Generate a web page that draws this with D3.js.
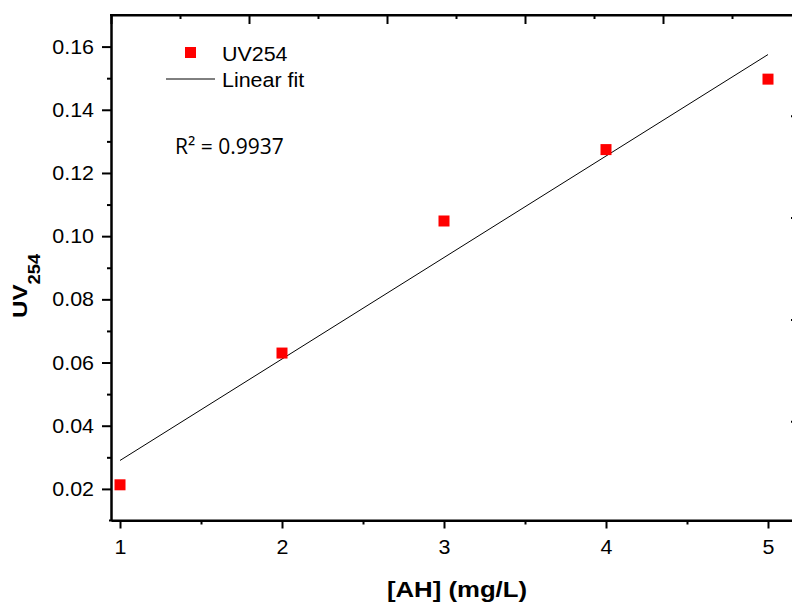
<!DOCTYPE html>
<html>
<head>
<meta charset="utf-8">
<script src="https://cdn.jsdelivr.net/npm/d3@7"></script>
<style>
  html, body { margin: 0; padding: 0; background: #fff; }
  svg { display: block; }
</style>
</head>
<body>
<svg id="chart" width="792" height="603"></svg>
<script>
// ---- data ----
const concentrations = [1, 2, 3, 4, 5];            // [AH] (mg/L)
const uv254 = [0.0213, 0.063, 0.1048, 0.1274, 0.1497];
const xTickValues = [1, 2, 3, 4, 5];
const xMinorTicks = [1.5, 2.5, 3.5, 4.5];
const yTickValues = [0.02, 0.04, 0.06, 0.08, 0.10, 0.12, 0.14, 0.16];
const yMinorTicks = [0.03, 0.05, 0.07, 0.09, 0.11, 0.13, 0.15];
const topMajorTicks = [0, 1, 2, 3, 4, 5];
const topMinorTicks = [0.5, 1.5, 2.5, 3.5, 4.5];
const rightTicks = [1, 2, 3, 4];
const seriesName = "UV254";
const fitName = "Linear fit";
const r2Text = "R\u00B2 = 0.9937";
const xTitle = "[AH] (mg/L)";

// ---- least squares fit ----
const n = concentrations.length;
const mx = d3.mean(concentrations), my = d3.mean(uv254);
let sxy = 0, sxx = 0;
for (let i = 0; i < n; i++) {
  sxy += (concentrations[i] - mx) * (uv254[i] - my);
  sxx += (concentrations[i] - mx) ** 2;
}
const slope = sxy / sxx, intercept = my - slope * mx;
const fitX = [d3.min(concentrations), d3.max(concentrations)];

// ---- layout ----
const L = 111, R = 795, T = 15, B = 520.5;
const svg = d3.select("#chart");
const x = d3.scaleLinear().domain([0.9444, 5.1667]).range([L, R]);
const y = d3.scaleLinear().domain([0.01, 0.17]).range([B, T]);
const xTop = d3.scaleLinear().domain([0, 5]).range([L, 801]);
const yRight = d3.scaleLinear().domain([0.0246, 4.99]).range([B, T]);

const FONT = "'Liberation Sans', Arial, sans-serif";
const SX = 1.1;

function styleAxis(g) {
  g.selectAll("path.domain").attr("stroke", "#000").attr("stroke-width", 2);
  g.selectAll(".tick line").attr("stroke", "#000").attr("stroke-width", 2);
}

// minor ticks
svg.append("g").attr("transform", `translate(0,${B})`)
  .call(d3.axisBottom(x).tickValues(xMinorTicks).tickSize(4).tickSizeOuter(0).tickFormat(""))
  .call(styleAxis);
svg.append("g").attr("transform", `translate(${L},0)`)
  .call(d3.axisLeft(y).tickValues(yMinorTicks).tickSize(4).tickSizeOuter(0).tickFormat(""))
  .call(styleAxis);

// bottom axis
const gx = svg.append("g").attr("transform", `translate(0,${B})`)
  .call(d3.axisBottom(x).tickValues(xTickValues).tickSize(8).tickSizeOuter(0).tickFormat(d3.format("d")))
  .call(styleAxis);
gx.select("path.domain").attr("d", `M${L - 2},0H${R}`);
gx.selectAll("text")
  .attr("x", null).attr("y", null).attr("dy", "0.71em")
  .attr("transform", `translate(0,19.5) scale(${SX},1)`)
  .attr("font-family", FONT).attr("font-size", "19.5px").attr("fill", "#000");

// left axis
const gy = svg.append("g").attr("transform", `translate(${L},0)`)
  .call(d3.axisLeft(y).tickValues(yTickValues).tickSize(9).tickSizeOuter(0).tickFormat(d3.format(".2f")))
  .call(styleAxis);
gy.selectAll("text")
  .attr("x", null).attr("dy", "0.34em")
  .attr("transform", `translate(-17,0) scale(${SX},1)`)
  .attr("font-family", FONT).attr("font-size", "19.5px").attr("fill", "#000");

// top axis (inward ticks, no labels)
svg.append("g").attr("transform", `translate(0,${T})`)
  .call(d3.axisTop(xTop).tickValues(topMinorTicks).tickSize(-4).tickSizeOuter(0).tickFormat(""))
  .call(styleAxis);
const gt = svg.append("g").attr("transform", `translate(0,${T})`)
  .call(d3.axisTop(xTop).tickValues(topMajorTicks).tickSize(-9).tickSizeOuter(0).tickFormat(""))
  .call(styleAxis);
gt.select("path.domain").attr("d", `M${L - 1},0H${R + 5}`);

// right axis (mostly off-canvas)
svg.append("g").attr("transform", `translate(${R},0)`)
  .call(d3.axisRight(yRight).tickValues(rightTicks).tickSize(-4).tickSizeOuter(0).tickFormat(""))
  .call(styleAxis);

// fit line
svg.append("line")
  .attr("x1", x(fitX[0])).attr("y1", y(intercept + slope * fitX[0]))
  .attr("x2", x(fitX[1])).attr("y2", y(intercept + slope * fitX[1]))
  .attr("stroke", "#000").attr("stroke-width", 1);

// points
const ms = 11;
svg.append("g").selectAll("rect").data(concentrations).join("rect")
  .attr("x", (d) => x(d) - ms / 2)
  .attr("y", (d, i) => y(uv254[i]) - ms / 2)
  .attr("width", ms).attr("height", ms)
  .attr("fill", "#ff0000");

// legend
function stretchedText(px, py, str, size, weight, family) {
  return svg.append("text")
    .attr("transform", `translate(${px},${py}) scale(${SX},1)`)
    .attr("font-family", family || FONT).attr("font-size", size + "px")
    .attr("font-weight", weight || "normal").attr("fill", "#000")
    .text(str);
}
svg.append("rect").attr("x", 185).attr("y", 47).attr("width", ms).attr("height", ms).attr("fill", "#ff0000");
stretchedText(222, 60.5, seriesName, 19.5);
svg.append("line").attr("x1", 166).attr("x2", 215).attr("y1", 79).attr("y2", 79)
  .attr("stroke", "#000").attr("stroke-width", 1);
stretchedText(222, 86.5, fitName, 19.5);

// R² annotation
svg.append("text").attr("x", 175).attr("y", 154)
  .attr("font-family", "'Open Sans', sans-serif").attr("font-size", "21px").attr("fill", "#000")
  .text(r2Text);

// axis titles
svg.append("text")
  .attr("transform", `translate(457,597) scale(1.12,1)`)
  .attr("text-anchor", "middle")
  .attr("font-family", FONT).attr("font-size", "23px").attr("font-weight", "bold").attr("fill", "#000")
  .text(xTitle);

const yt = svg.append("text")
  .attr("transform", `translate(27,318) rotate(-90) scale(1.15,1)`)
  .attr("text-anchor", "start")
  .attr("font-family", FONT).attr("font-size", "21px").attr("font-weight", "bold").attr("fill", "#000");
yt.append("tspan").text("UV");
yt.append("tspan").attr("dy", 13).attr("font-size", "16px").text("254");
</script>
</body>
</html>
